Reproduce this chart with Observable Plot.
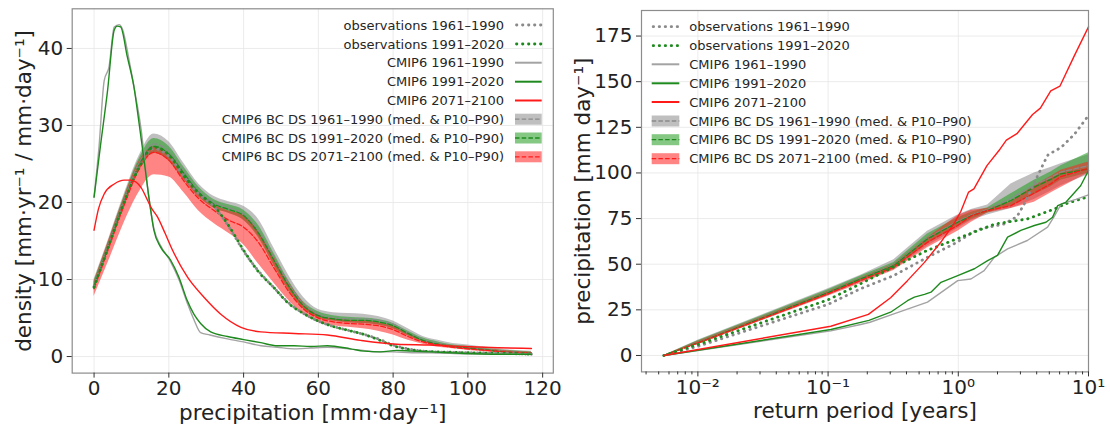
<!DOCTYPE html>
<html><head><meta charset="utf-8">
<script src="https://cdn.jsdelivr.net/npm/d3@7"></script>
<script src="https://cdn.jsdelivr.net/npm/@observablehq/plot@0.6"></script>
<style>
body{margin:0;background:#fff;font-family:"DejaVu Sans",sans-serif;}
#wrap{position:relative;width:1110px;height:427px;overflow:hidden;background:#fff;}
#left,#right,#legend{position:absolute;top:0;}
#left{left:0}
#right{left:560px}
#legend{left:0;pointer-events:none}
</style></head><body>
<div id="wrap"><div id="left"></div><div id="right"></div><svg id="legend" width="1110" height="427"></svg></div>
<script>
// ---------------- LEFT PANEL DATA (density vs precipitation) ----------------
const precip = [0, 4, 8, 12, 16, 20, 24, 28, 32, 36, 40, 44, 48, 52, 56, 60, 64, 68, 72, 76, 80, 84, 88, 92, 96, 100, 105, 110, 117];
const obs6190Dens = [9.1, 14.6, 20.1, 24.6, 27.0, 26.0, 23.4, 21.1, 19.5, 16.9, 13.7, 11.1, 9.0, 7.0, 5.6, 4.6, 3.9, 3.4, 2.9, 2.3, 1.5, 1.0, 0.7, 0.6, 0.55, 0.5, 0.45, 0.4, 0.3];
const obs9120Dens = [9.0, 14.5, 20.0, 24.5, 27.2, 26.2, 23.5, 21.2, 19.6, 17.0, 13.8, 11.0, 9.0, 6.9, 5.6, 4.6, 3.9, 3.4, 2.9, 2.2, 1.4, 0.95, 0.7, 0.6, 0.55, 0.5, 0.45, 0.4, 0.3];
const bc6190Mid = [9.3, 14.7, 20.2, 25.1, 27.6, 26.6, 24.0, 21.5, 20.0, 19.3, 18.5, 16.3, 12.9, 9.5, 6.8, 5.5, 5.0, 4.9, 4.9, 4.7, 4.2, 3.1, 2.2, 1.7, 1.35, 1.15, 0.9, 0.65, 0.5];
const bc6190Lo  = [8.6, 13.9, 19.3, 24.0, 26.4, 25.4, 23.0, 20.7, 19.3, 18.6, 17.7, 15.6, 12.0, 8.8, 6.3, 5.0, 4.6, 4.4, 4.3, 4.1, 3.6, 2.7, 1.9, 1.4, 1.1, 0.9, 0.7, 0.5, 0.35];
const bc6190Hi  = [10.0, 15.4, 21.0, 26.0, 28.9, 27.9, 25.1, 22.4, 20.8, 20.1, 19.5, 17.8, 14.2, 10.6, 7.7, 6.1, 5.7, 5.6, 5.5, 5.2, 4.6, 3.6, 2.6, 2.1, 1.7, 1.5, 1.2, 0.9, 0.7];
const bc9120Mid = [9.2, 14.5, 20.0, 24.8, 27.3, 26.3, 23.8, 21.3, 19.8, 19.1, 18.3, 16.0, 12.6, 9.2, 6.6, 5.3, 4.9, 4.7, 4.7, 4.5, 4.0, 3.0, 2.1, 1.6, 1.3, 1.1, 0.85, 0.6, 0.45];
const bc9120Lo  = [8.7, 14.0, 19.4, 24.1, 26.4, 25.4, 23.0, 20.7, 19.3, 18.6, 17.7, 15.4, 11.9, 8.6, 6.2, 5.0, 4.6, 4.4, 4.3, 4.1, 3.6, 2.7, 1.9, 1.4, 1.1, 0.95, 0.7, 0.5, 0.35];
const bc9120Hi  = [9.8, 15.1, 20.7, 25.6, 28.3, 27.3, 24.6, 22.0, 20.4, 19.7, 19.0, 17.0, 13.5, 9.9, 7.1, 5.8, 5.3, 5.1, 5.0, 4.8, 4.3, 3.3, 2.4, 1.9, 1.5, 1.3, 1.0, 0.8, 0.6];
const bc7100Mid = [8.8, 14.2, 19.6, 24.3, 26.5, 25.5, 22.8, 20.5, 19.0, 17.7, 16.8, 14.8, 11.6, 8.5, 6.2, 5.0, 4.5, 4.3, 4.2, 4.0, 3.5, 2.6, 1.9, 1.5, 1.2, 1.0, 0.8, 0.6, 0.45];
const bc7100Lo  = [7.8, 12.5, 17.3, 21.3, 23.6, 23.3, 21.3, 18.9, 17.3, 16.0, 14.5, 12.0, 9.6, 7.3, 5.5, 4.5, 4.0, 3.8, 3.6, 3.3, 2.8, 2.1, 1.6, 1.2, 1.0, 0.8, 0.6, 0.45, 0.3];
const bc7100Hi  = [9.6, 15.2, 20.6, 25.3, 27.2, 26.3, 23.6, 21.2, 19.7, 18.9, 18.3, 16.3, 13.1, 9.7, 7.0, 5.4, 4.9, 4.7, 4.6, 4.4, 3.9, 2.9, 2.1, 1.7, 1.4, 1.2, 0.95, 0.75, 0.55];

const raw6190X = [0, 1.3, 2.7, 4.0, 5.4, 6.7, 7.6, 9.4, 11.2, 12.5, 14.7, 16.0, 17.8, 20.5, 22.7, 24.9, 26.7, 28.5, 31, 35.7, 40, 44.6, 49, 53.5, 58, 62.4, 68, 72, 76, 80, 85, 90, 99, 108, 117];
const raw6190Y = [20.7, 27.1, 35.8, 37.6, 42.8, 43.1, 42.5, 38.4, 33.6, 29.8, 20.5, 16.6, 14.4, 12.3, 10.0, 7.0, 4.8, 3.1, 2.8, 2.3, 1.9, 1.4, 1.2, 1.0, 1.1, 1.2, 1.0, 0.8, 0.6, 0.6, 0.5, 0.5, 0.35, 0.3, 0.3];
const raw9120X = [0, 1.8, 3.6, 5.4, 6.2, 7.1, 8.9, 10.7, 11.9, 13.4, 14.8, 16.0, 17.8, 20.5, 22.7, 24.9, 26.7, 28.5, 31.2, 35.7, 40, 44.6, 49, 53.5, 58, 62.4, 68.6, 72.2, 76.6, 81, 85, 90, 99, 108, 117];
const raw9120Y = [20.7, 27.7, 34.5, 42.4, 42.9, 42.8, 38.9, 34.9, 30.8, 25.4, 20.2, 16.4, 14.2, 12.5, 10.3, 7.3, 5.5, 4.3, 3.2, 2.6, 2.2, 1.8, 1.4, 1.4, 1.3, 1.4, 1.0, 0.7, 0.6, 0.8, 0.7, 0.6, 0.4, 0.3, 0.3];
const raw7100X = [0, 1.2, 2.7, 5.4, 8.1, 9.8, 12.5, 14.3, 15.2, 17.0, 19.0, 21.0, 25.0, 29.4, 33.9, 39.3, 44.6, 53.5, 62.4, 71.3, 81, 90, 99, 108, 117];
const raw7100Y = [16.4, 19.2, 21.1, 22.4, 22.9, 22.9, 22.0, 20.3, 19.4, 18.1, 16.0, 13.8, 10.3, 7.7, 5.5, 3.8, 3.2, 3.0, 2.8, 2.1, 1.6, 1.5, 1.3, 1.15, 1.05];

const leftXTicks = [0, 20, 40, 60, 80, 100, 120];
const leftYTicks = [0, 10, 20, 30, 40];

// ---------------- RIGHT PANEL DATA (precipitation vs return period) ----------------
const rpObs6190 = [0.00548, 0.01, 0.1, 0.178, 0.32, 0.58, 0.92, 1.41, 2.24, 2.82, 3.21, 3.8, 4.57, 4.9, 6.17, 7.76, 10];
const obs6190Pr = [0, 5, 28, 36.6, 43.8, 53.8, 61, 69, 72, 76, 83, 94, 106, 110, 114, 121, 131.5];
const rpObs9120 = [0.00548, 0.01, 0.1, 0.178, 0.316, 0.575, 1.05, 1.9, 3.39, 5.5, 6.6, 10];
const obs9120Pr = [0, 6, 30.5, 39.3, 48.4, 57.5, 64.8, 72, 74.8, 80.3, 83, 87];
const rpRaw6190 = [0.00548, 0.105, 0.178, 0.21, 0.32, 0.58, 0.99, 1.25, 1.58, 1.89, 2.39, 3.39, 4.85, 5.5, 6.17, 8.0, 10];
const raw6190Pr = [0, 13.5, 17.0, 18.2, 22.8, 29.2, 41, 41.9, 46.5, 53.8, 58.4, 63, 70.3, 76.6, 83, 85.5, 88];
const rpRaw9120 = [0.00548, 0.105, 0.206, 0.302, 0.407, 0.46, 0.55, 0.617, 0.736, 0.99, 1.33, 1.68, 2.0, 2.39, 3.02, 3.84, 4.71, 5.3, 5.8, 6.7, 8.7, 10];
const raw9120Pr = [0, 14.2, 19.2, 23.7, 30, 32, 33.5, 34.7, 40.1, 43.8, 47.5, 52, 54.8, 64.8, 68.5, 71.2, 73, 75.7, 82.1, 83.9, 93, 101.3];
const rpRaw7100 = [0.00548, 0.105, 0.204, 0.302, 0.407, 0.55, 0.733, 0.933, 1.047, 1.2, 1.318, 1.66, 2.09, 2.34, 2.82, 3.72, 4.27, 5.13, 6.03, 7.76, 10];
const raw7100Pr = [0, 16, 22.5, 31.6, 41, 51, 62, 72.5, 79, 89.5, 91.3, 104, 113, 118, 121.5, 132, 135.5, 145, 147.5, 164, 180];
const rpBC = [0.00548, 0.01, 0.1, 0.178, 0.32, 0.58, 0.99, 1.26, 1.68, 2.54, 3.83, 5.13, 6.14, 10];
const bc6190PrMid = [0, 7.2, 34.8, 42.3, 49.8, 64.5, 73.5, 77, 80, 86, 93.5, 97.5, 100.5, 104];
const bc6190PrLo  = [0, 6, 32.8, 40.2, 47, 60, 69.5, 74, 77, 80.5, 85.5, 90, 93, 99];
const bc6190PrHi  = [0, 8.3, 36.6, 44, 52.5, 68, 77, 80, 82.5, 94, 100, 103, 105, 110];
const bc9120PrMid = [0, 7, 34.5, 42, 49.3, 63.9, 73, 76.5, 79.4, 84.9, 92.2, 96.5, 99.5, 102.2];
const bc9120PrLo  = [0, 6, 33, 40.5, 47.5, 61.5, 70.5, 74.5, 78, 82, 88, 92.5, 96, 100];
const bc9120PrHi  = [0, 8, 36, 43.5, 51, 66.5, 75.5, 78.5, 81, 88.6, 96, 100.5, 104, 111];
const bc7100PrMid = [0, 6.8, 33.8, 41.1, 48.4, 62, 71.2, 76.5, 79.4, 82.1, 89, 94, 98, 102.5];
const bc7100PrLo  = [0, 6, 32.5, 39.5, 46.5, 59, 68, 73, 78, 80.5, 84, 89, 92, 100];
const bc7100PrHi  = [0, 7.6, 35, 42.5, 50, 64.5, 76.5, 79.5, 80.5, 84, 93, 98, 101.5, 106];

const rightXTicks = [0.01, 0.1, 1, 10];
const rightXTickLabels = ["10⁻²", "10⁻¹", "10⁰", "10¹"];
const rightYTicks = [0, 25, 50, 75, 100, 125, 150, 175];

const legendLabels = [
  "observations 1961–1990", "observations 1991–2020",
  "CMIP6 1961–1990", "CMIP6 1991–2020", "CMIP6 2071–2100",
  "CMIP6 BC DS 1961–1990 (med. & P10–P90)",
  "CMIP6 BC DS 1991–2020 (med. & P10–P90)",
  "CMIP6 BC DS 2071–2100 (med. & P10–P90)"
];

// ---------------- styles ----------------
const col = {gray: "#8a8a8a", grayLine: "#a3a3a3", grayFill: "#808080", green: "#1e8a1e", greenFill: "#1f9a1f", red: "#ff1a1a", redFill: "#ff2020"};
const gridColor = "#e6e6e6", frameColor = "#8c8c8c", textColor = "#222";
const dotted = {strokeWidth: 2.8, strokeDasharray: "0.4,5.6", strokeLinecap: "round"};
const dashed = {strokeWidth: 1.3, strokeDasharray: "5,2.3"};
const solid = {strokeWidth: 1.4};
const bandOpacity = 0.55;

const pts = (xs, ys) => xs.map((x, i) => ({x, y: ys[i]}));
const band = (xs, lo, mid, hi) => xs.map((x, i) => ({x, lo: lo[i], mid: mid[i], hi: hi[i]}));
const svgStyle = {background: "transparent", overflow: "visible", fontFamily: "DejaVu Sans, sans-serif", fontSize: "20px", color: textColor};

// ---------------- LEFT PLOT ----------------
const lb6190 = band(precip, bc6190Lo, bc6190Mid, bc6190Hi);
const lb9120 = band(precip, bc9120Lo, bc9120Mid, bc9120Hi);
const lb7100 = band(precip, bc7100Lo, bc7100Mid, bc7100Hi);
const smooth = "monotone-x";

const leftPlot = Plot.plot({
  width: 600, height: 427,
  marginLeft: 71.7, marginRight: 47.2, marginTop: 8.3, marginBottom: 54.4,
  style: svgStyle,
  x: {domain: [-5.85, 122.85]},
  y: {domain: [-2.15, 45.15]},
  marks: [
    Plot.gridX(leftXTicks, {stroke: gridColor, strokeOpacity: 1, strokeWidth: 0.8}),
    Plot.gridY(leftYTicks, {stroke: gridColor, strokeOpacity: 1, strokeWidth: 0.8}),
    Plot.areaY(lb6190, {x: "x", y1: "lo", y2: "hi", fill: col.grayFill, fillOpacity: 0.5, curve: smooth}),
    Plot.areaY(lb9120, {x: "x", y1: "lo", y2: "hi", fill: col.greenFill, fillOpacity: bandOpacity, curve: smooth}),
    Plot.areaY(lb7100, {x: "x", y1: "lo", y2: "hi", fill: col.redFill, fillOpacity: bandOpacity, curve: smooth}),
    Plot.line(lb6190, {x: "x", y: "mid", stroke: col.gray, curve: smooth, ...dashed}),
    Plot.line(lb9120, {x: "x", y: "mid", stroke: col.green, curve: smooth, ...dashed}),
    Plot.line(lb7100, {x: "x", y: "mid", stroke: col.red, curve: smooth, ...dashed}),
    Plot.line(pts(precip, obs6190Dens), {x: "x", y: "y", stroke: col.gray, curve: smooth, ...dotted}),
    Plot.line(pts(precip, obs9120Dens), {x: "x", y: "y", stroke: col.green, curve: smooth, ...dotted}),
    Plot.line(pts(raw6190X, raw6190Y), {x: "x", y: "y", stroke: col.grayLine, curve: smooth, ...solid}),
    Plot.line(pts(raw9120X, raw9120Y), {x: "x", y: "y", stroke: col.green, curve: smooth, ...solid}),
    Plot.line(pts(raw7100X, raw7100Y), {x: "x", y: "y", stroke: col.red, curve: smooth, ...solid}),
    Plot.frame({stroke: frameColor, strokeWidth: 1.2}),
    Plot.axisX(leftXTicks, {tickSize: 5, tickPadding: 3, label: null, stroke: "#333"}),
    Plot.axisY(leftYTicks, {tickSize: 5, tickPadding: 4, label: null, stroke: "#333"}),
    Plot.text(["precipitation [mm·day⁻¹]"], {frameAnchor: "bottom", lineAnchor: "middle", dy: 40, fontSize: 21.5, fill: textColor}),
    Plot.text(["density [mm·yr⁻¹ / mm·day⁻¹]"], {frameAnchor: "left", textAnchor: "middle", lineAnchor: "middle", rotate: -90, dx: -48, fontSize: 21.5, fill: textColor})
  ]
});
document.getElementById("left").appendChild(leftPlot);

// ---------------- RIGHT PLOT ----------------
const rb6190 = band(rpBC, bc6190PrLo, bc6190PrMid, bc6190PrHi);
const rb9120 = band(rpBC, bc9120PrLo, bc9120PrMid, bc9120PrHi);
const rb7100 = band(rpBC, bc7100PrLo, bc7100PrMid, bc7100PrHi);
const xMin = Math.pow(10, -2.433);
const minorTicks = [];
for (const d of [0.001, 0.01, 0.1, 1]) for (let m = 2; m <= 9; m++) { const v = m * d; if (v >= xMin && v <= 10) minorTicks.push(v); }

const rightPlot = Plot.plot({
  width: 550, height: 427,
  marginLeft: 81, marginRight: 22, marginTop: 10, marginBottom: 55.6,
  style: svgStyle,
  x: {type: "log", domain: [xMin, 10]},
  y: {domain: [-9, 189]},
  marks: [
    Plot.gridX(rightXTicks, {stroke: gridColor, strokeOpacity: 1, strokeWidth: 0.8}),
    Plot.gridY(rightYTicks, {stroke: gridColor, strokeOpacity: 1, strokeWidth: 0.8}),
    Plot.areaY(rb6190, {x: "x", y1: "lo", y2: "hi", fill: col.grayFill, fillOpacity: 0.5}),
    Plot.areaY(rb9120, {x: "x", y1: "lo", y2: "hi", fill: col.greenFill, fillOpacity: bandOpacity}),
    Plot.areaY(rb7100, {x: "x", y1: "lo", y2: "hi", fill: col.redFill, fillOpacity: bandOpacity}),
    Plot.line(rb6190, {x: "x", y: "mid", stroke: col.gray, ...dashed}),
    Plot.line(rb9120, {x: "x", y: "mid", stroke: col.green, ...dashed}),
    Plot.line(rb7100, {x: "x", y: "mid", stroke: col.red, ...dashed}),
    Plot.line(pts(rpObs6190, obs6190Pr), {x: "x", y: "y", stroke: col.gray, ...dotted}),
    Plot.line(pts(rpObs9120, obs9120Pr), {x: "x", y: "y", stroke: col.green, ...dotted}),
    Plot.line(pts(rpRaw6190, raw6190Pr), {x: "x", y: "y", stroke: col.grayLine, ...solid}),
    Plot.line(pts(rpRaw9120, raw9120Pr), {x: "x", y: "y", stroke: col.green, ...solid}),
    Plot.line(pts(rpRaw7100, raw7100Pr), {x: "x", y: "y", stroke: col.red, ...solid}),
    Plot.frame({stroke: frameColor, strokeWidth: 1.2}),
    Plot.axisX(minorTicks, {tickSize: 3, tickFormat: () => "", label: null, stroke: "#333"}),
    Plot.axisX(rightXTicks, {tickSize: 5, tickPadding: 3, label: null, stroke: "#333",
      tickFormat: (d) => rightXTickLabels[rightXTicks.indexOf(d)]}),
    Plot.axisY(rightYTicks, {tickSize: 5, tickPadding: 4, label: null, stroke: "#333"}),
    Plot.text(["return period [years]"], {frameAnchor: "bottom", lineAnchor: "middle", dy: 39, fontSize: 21.5, fill: textColor}),
    Plot.text(["precipitation [mm day⁻¹]"], {frameAnchor: "left", textAnchor: "middle", lineAnchor: "middle", rotate: -90, dx: -58, fontSize: 21.5, fill: textColor})
  ]
});
document.getElementById("right").appendChild(rightPlot);

// ---------------- LEGENDS (overlay) ----------------
const legendStyles = [
  {kind: "line", stroke: col.gray, ...dotted},
  {kind: "line", stroke: col.green, ...dotted},
  {kind: "line", stroke: col.grayLine, strokeWidth: 2},
  {kind: "line", stroke: col.green, strokeWidth: 2},
  {kind: "line", stroke: col.red, strokeWidth: 2},
  {kind: "band", fill: col.grayFill, fillOpacity: 0.5, stroke: col.gray},
  {kind: "band", fill: col.greenFill, fillOpacity: bandOpacity, stroke: col.green},
  {kind: "band", fill: col.redFill, fillOpacity: bandOpacity, stroke: col.red}
];
const leg = d3.select("#legend");
function drawLegend(rowsY, markerX0, markerX1, textX, anchor) {
  legendLabels.forEach((lab, i) => {
    const y = rowsY[i], s = legendStyles[i];
    if (s.kind === "band") {
      leg.append("rect").attr("x", markerX0).attr("y", y - 5.5).attr("width", markerX1 - markerX0).attr("height", 11)
        .attr("fill", s.fill).attr("fill-opacity", s.fillOpacity);
      leg.append("line").attr("x1", markerX0).attr("x2", markerX1).attr("y1", y).attr("y2", y)
        .attr("stroke", s.stroke).attr("stroke-width", dashed.strokeWidth).attr("stroke-dasharray", "4.5,2.2");
    } else {
      const l = leg.append("line").attr("x1", markerX0 + (s.strokeLinecap ? 1.5 : 0)).attr("x2", markerX1).attr("y1", y).attr("y2", y)
        .attr("stroke", s.stroke).attr("stroke-width", s.strokeWidth);
      if (s.strokeDasharray) l.attr("stroke-dasharray", s.strokeDasharray);
      if (s.strokeLinecap) l.attr("stroke-linecap", s.strokeLinecap);
    }
    leg.append("text").attr("x", textX).attr("y", y).attr("dy", "0.35em").attr("text-anchor", anchor)
      .attr("font-family", "DejaVu Sans, sans-serif").attr("font-size", 13).attr("fill", "#262626").text(lab);
  });
}
drawLegend([25, 44, 62.7, 81.7, 100.5, 119.2, 138, 156.8], 515, 541.7, 504, "end");
drawLegend([26.7, 45.7, 64.3, 83.3, 102, 121, 139.7, 158.7], 651.7, 679.3, 689.3, "start");
</script>
</body></html>
